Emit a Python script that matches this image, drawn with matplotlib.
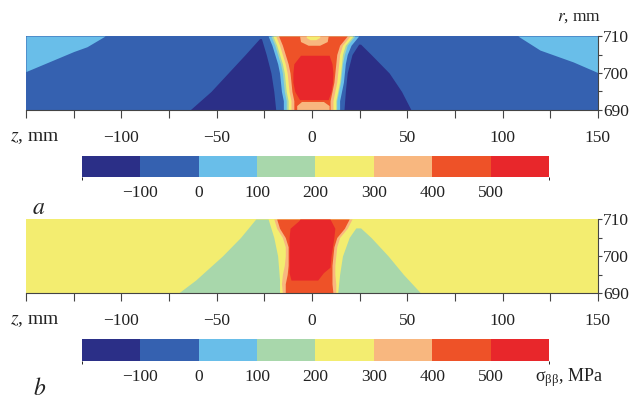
import matplotlib
matplotlib.use("Agg")
import matplotlib.pyplot as plt
from matplotlib.colors import ListedColormap, BoundaryNorm
from matplotlib.cm import ScalarMappable

plt.rcParams["font.family"] = "serif"
plt.rcParams["font.serif"] = ["Liberation Serif", "DejaVu Serif"]
plt.rcParams["mathtext.fontset"] = "stix"

# stress levels (MPa) and their colours
LEVELS = [-200, -100, 0, 100, 200, 300, 400, 500, 600]
LEVEL_COLORS = ["#2b2f87", "#3561b0", "#69bee9", "#a8d7ab",
                "#f3ed70", "#f8b77f", "#ee5228", "#e8272b"]
CBAR_TICKS = [-100, 0, 100, 200, 300, 400, 500]
Z_TICKS = [-100, -50, 0, 50, 100, 150]
Z_MINOR = [-150, -125, -75, -25, 25, 75, 125]
R_TICKS = [690, 700, 710]
R_MINOR = [695, 705]
Z_RANGE = [-150, 150]

# ---- panel a: isoline positions ----
A_BACK = -50
# light-blue corners (0..100)
A_LC_Z = [-150, -137.5, -125, -118, -108.5]
A_LC_R = [700.4, 703.1, 705.8, 707.1, 710]
A_RC_Z = [108, 119.6, 137, 150]
A_RC_R = [710, 706.2, 703, 700.1]
# dark triangles (< -100)
A_NL_R = [690, 695, 700, 705, 709.3]
A_NL_ZL = [-64, -53, -44, -35, -27.5]
A_NL_ZR = [-19, -20, -21.5, -24, -26.5]
A_NR_R = [690, 695, 700, 705, 707.8]
A_NR_ZL = [16.8, 17.5, 18.5, 21, 24.5]
A_NR_ZR = [52, 47, 40.5, 31, 25.5]
# central column, one row per r
A_C_R = [690, 692.5, 695, 697.5, 700, 702.5, 705, 707.5, 710]
A_LB_L = [-15, -15, -16, -16.5, -17, -18, -19.5, -21, -23]
A_LB_R = [14.5, 14.5, 15.5, 16.5, 17, 17.5, 18.5, 20.5, 24.5]
A_GR_L = [-13.5, -13.5, -14.5, -15, -15.5, -16.5, -18, -19.5, -21.5]
A_GR_R = [13, 13, 14, 15, 15.5, 16, 17, 18.5, 22.5]
A_YE_L = [-12.5, -12.5, -13.5, -14, -14.5, -15.5, -17, -18.5, -20.5]
A_YE_R = [12.5, 12.5, 13.5, 14.5, 15, 15.5, 16, 17.5, 21.5]
A_PE_L = [-11, -11, -12, -12.5, -13, -14, -15.5, -17, -19]
A_PE_R = [11, 11, 12, 13, 13.5, 14, 14.5, 16, 20]
A_OR_L = [-9.5, -9.5, -10.5, -11, -11.5, -12.5, -14, -15.5, -17.5]
A_OR_R = [9.5, 9.5, 10.5, 11.5, 12, 12.5, 13, 14.5, 18.5]
A_RD_R = [692.8, 695, 697.5, 700, 702.5, 704.8]
A_RD_L = [-6.5, -9, -10, -10, -9.5, -6]
A_RD_RR = [8.5, 10, 10.8, 11, 10.5, 9]
A_TOP_R = [707.5, 708.5, 710]
A_TOP_L = [-2, -6, -6.5]
A_TOP_RR = [4, 8, 8.5]
A_TOPY_R = [709, 709.6, 710]
A_TOPY_L = [-1, -3, -3]
A_TOPY_RR = [2, 4, 4.2]
A_BOT_R = [690, 691.2, 692.3]
A_BOT_L = [-8, -8, -5.5]
A_BOT_RR = [9, 9, 6]

# ---- panel b ----
B_BACK = 250
B_GL_R = [690, 693.5, 700, 705, 710]
B_GL_ZL = [-70, -61, -47, -37.5, -29.5]
B_GL_ZR = [-17, -17, -18, -20, -23]
B_GR_R = [690, 695, 700, 705, 707.6]
B_GR_ZL = [13.5, 14.5, 16, 19.5, 23]
B_GR_ZR = [57, 48, 40, 31, 25.5]
B_C_R = [690, 692.5, 695, 697.5, 700, 702.5, 705, 707.5, 710]
B_PE_L = [-15.5, -16, -15.5, -14.5, -14, -14, -15.5, -18.5, -20]
B_PE_R = [12.5, 12.5, 12, 12, 12.5, 13, 14.5, 18.5, 21]
B_OR_L = [-14, -14, -13, -12.5, -12.5, -12.5, -14, -17, -18.5]
B_OR_R = [11, 10.5, 10.5, 10.5, 11, 11.5, 13, 17, 19.5]
B_RD_R = [693.5, 695.5, 697, 700, 705, 707.5, 709.5, 710]
B_RD_L = [-11, -12, -12, -12, -12, -11.5, -7, -6.3]
B_RD_RR = [3, 6, 9.5, 10, 11.5, 12, 10, 9.4]

cmap = ListedColormap(LEVEL_COLORS)
norm = BoundaryNorm(LEVELS, cmap.N)


def band(ax, r, zl, zr, value):
    ax.fill_betweenx(r, zl, zr, color=cmap(norm(value)), lw=0)


def setup(ax):
    ax.set_xlim(*Z_RANGE)
    ax.set_ylim(690, 710)
    ax.set_xticks(Z_TICKS)
    ax.set_xticks(Z_MINOR, minor=True)
    ax.set_xticklabels([f"\u2212{-t}" if t < 0 else str(t) for t in Z_TICKS])
    ax.yaxis.tick_right()
    ax.set_yticks(R_TICKS)
    ax.set_yticks(R_MINOR, minor=True)
    ax.tick_params(axis="x", which="both", direction="out", length=5.5,
                   width=0.8, color="#444", labelsize=12.5, pad=9,
                   labelcolor="#222")
    ax.tick_params(axis="y", which="major", direction="out", length=3,
                   width=0.8, color="#444", labelsize=12.5, pad=0.5,
                   labelcolor="#222")
    ax.tick_params(axis="y", which="minor", direction="out", length=3,
                   width=0.8, color="#444")
    for s in ["left", "top"]:
        ax.spines[s].set_visible(False)
    for s in ["right", "bottom"]:
        ax.spines[s].set_color("#444")
        ax.spines[s].set_linewidth(0.8)
    ax.annotate("$z$, mm", xy=(0, 0), xycoords="axes fraction",
                xytext=(6.5, -19.5), textcoords="offset points",
                ha="center", va="center", fontsize=14, color="#222")


def colorbar(fig, rect):
    cax = fig.add_axes(rect)
    cb = fig.colorbar(ScalarMappable(norm=norm, cmap=cmap), cax=cax,
                      orientation="horizontal", ticks=CBAR_TICKS)
    cb.outline.set_visible(False)
    cb.ax.set_xticklabels([f"\u2212{-t}" if t < 0 else str(t) for t in CBAR_TICKS])
    cb.ax.tick_params(length=0, labelsize=12.5, pad=6, labelcolor="#222")
    return cb


fig = plt.figure(figsize=(6.32, 4.01), dpi=100)

# panel a
axa = fig.add_axes([0.0411, 0.7257, 0.905, 0.1845])
axa.fill_between(Z_RANGE, 690, 710, color=cmap(norm(A_BACK)), lw=0)
axa.fill_between(A_LC_Z, A_LC_R, 710, color=cmap(norm(50)), lw=0)
axa.fill_between(A_RC_Z, A_RC_R, 710, color=cmap(norm(50)), lw=0)
band(axa, A_NL_R, A_NL_ZL, A_NL_ZR, -150)
band(axa, A_NR_R, A_NR_ZL, A_NR_ZR, -150)
band(axa, A_C_R, A_LB_L, A_LB_R, 50)
band(axa, A_C_R, A_GR_L, A_GR_R, 150)
band(axa, A_C_R, A_YE_L, A_YE_R, 250)
band(axa, A_C_R, A_PE_L, A_PE_R, 350)
band(axa, A_C_R, A_OR_L, A_OR_R, 450)
band(axa, A_RD_R, A_RD_L, A_RD_RR, 550)
band(axa, A_TOP_R, A_TOP_L, A_TOP_RR, 350)
band(axa, A_TOPY_R, A_TOPY_L, A_TOPY_RR, 250)
band(axa, A_BOT_R, A_BOT_L, A_BOT_RR, 350)
setup(axa)

# panel b
axb = fig.add_axes([0.0411, 0.2693, 0.905, 0.1845])
axb.fill_between(Z_RANGE, 690, 710, color=cmap(norm(B_BACK)), lw=0)
band(axb, B_GL_R, B_GL_ZL, B_GL_ZR, 150)
band(axb, B_GR_R, B_GR_ZL, B_GR_ZR, 150)
band(axb, B_C_R, B_PE_L, B_PE_R, 350)
band(axb, B_C_R, B_OR_L, B_OR_R, 450)
band(axb, B_RD_R, B_RD_L, B_RD_RR, 550)
setup(axb)

colorbar(fig, [0.1297, 0.5586, 0.739, 0.0531])
colorbar(fig, [0.1297, 0.0998, 0.739, 0.0549])

fig.text(579 / 632, 1 - 17 / 401, "$r$, mm", ha="center", va="center",
         fontsize=12.5, color="#222")
fig.text(39 / 632, 1 - 208 / 401, "$a$", ha="center", va="center",
         fontsize=17, color="#222")
fig.text(40 / 632, 1 - 389 / 401, "$b$", ha="center", va="center",
         fontsize=17, color="#222")
fig.text(569 / 632, 1 - 378 / 401, r"$\mathregular{\sigma_{\beta\beta}}$, MPa",
         ha="center", va="center", fontsize=13, color="#222")

fig.savefig("out.png", dpi=100)
